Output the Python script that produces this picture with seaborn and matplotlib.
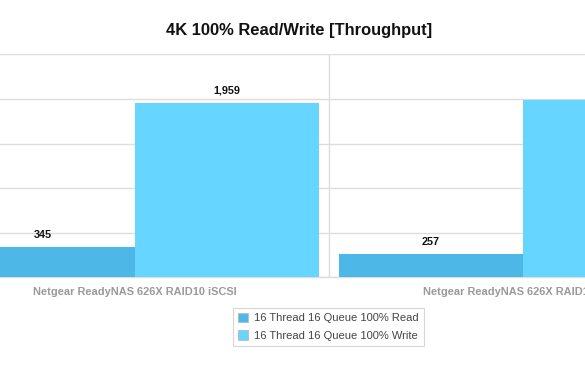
import matplotlib
matplotlib.use("Agg")
import matplotlib.pyplot as plt
from matplotlib.patches import Patch
import seaborn as sns
import pandas as pd

categories = ["Netgear ReadyNAS 626X RAID10 iSCSI", "Netgear ReadyNAS 626X RAID10 CIFS"]
series_names = ["16 Thread 16 Queue 100% Read", "16 Thread 16 Queue 100% Write"]
read_values = [345, 257]
write_values = [1959, 1990]
colors = ["#4db8e8", "#66d5ff"]
title = "4K 100% Read/Write [Throughput]"

rows = []
for c, r, w in zip(categories, read_values, write_values):
    rows.append({"device": c, "series": series_names[0], "value": r})
    rows.append({"device": c, "series": series_names[1], "value": w})
df = pd.DataFrame(rows)

sns.set_theme(style="white")
plt.rcParams["font.family"] = ["Liberation Sans", "DejaVu Sans"]

W, H = 585, 372
fig = plt.figure(figsize=(W / 100, H / 100), dpi=100)
# axes extend beyond the figure (chart is a crop)
left_px, right_px, top_px, bottom_px = -59, 717, 54.3, 277.3
ax = fig.add_axes([left_px / W, 1 - bottom_px / H, (right_px - left_px) / W, (bottom_px - top_px) / H])

sns.barplot(data=df, x="device", y="value", hue="series", palette=colors,
            width=0.948, gap=0, saturation=1, linewidth=0, edgecolor="none",
            ax=ax, legend=False, zorder=3)

ax.set_xlim(-0.5, 1.5)
ax.set_ylim(0, 2500)
ax.set_yticks([0, 500, 1000, 1500, 2000, 2500])
ax.yaxis.grid(True, color="#dddddd", linewidth=1, zorder=0)
ax.set_xticks([-0.5, 0.5, 1.5], minor=True)
ax.xaxis.grid(True, which="minor", color="#dddddd", linewidth=1, zorder=0)
ax.xaxis.grid(False, which="major")
ax.tick_params(axis="x", which="both", length=0, pad=7)
ax.tick_params(axis="y", length=0)
ax.set_yticklabels([])
ax.set_xlabel("")
ax.set_ylabel("")
for lab in ax.get_xticklabels():
    lab.set_fontweight("bold")
    lab.set_color("#9a9a9a")
    lab.set_fontsize(7.9)
for s in ["top", "left", "right"]:
    ax.spines[s].set_visible(False)
ax.spines["bottom"].set_color("#dddddd")
ax.spines["bottom"].set_linewidth(1)

for cont in ax.containers:
    ax.bar_label(cont, fmt="{:,.0f}", padding=5, fontsize=7.8, fontweight="bold", color="#111111")

fig.text(299.5 / W, 1 - 30.7 / H, title, ha="center", va="center",
         fontsize=11.9, fontweight="bold", color="#111111")

handles = [Patch(facecolor=c, edgecolor="#bbbbbb", linewidth=0.6) for c in colors]
leg = fig.legend(handles, series_names, loc="upper center",
                 bbox_to_anchor=(328.5 / W, 1 - 307.7 / H), bbox_transform=fig.transFigure,
                 fontsize=8, frameon=True, fancybox=False, borderpad=0.45,
                 handlelength=0.9, handleheight=0.9, handletextpad=0.55,
                 labelspacing=0.65, borderaxespad=0)
leg.get_frame().set_edgecolor("#cccccc")
leg.get_frame().set_linewidth(0.8)
for t in leg.get_texts():
    t.set_color("#444444")

fig.savefig("out.png", dpi=100)
